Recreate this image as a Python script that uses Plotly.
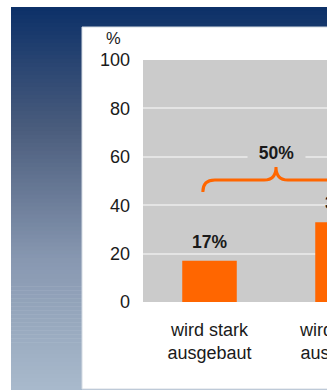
import plotly.graph_objects as go

# --- data -------------------------------------------------------------
categories = ["wird stark<br>ausgebaut", "wird etwas<br>ausgebaut"]
values = [17, 33]                      # percent
y_ticks = [0, 20, 40, 60, 80, 100]
unit_label = "%"

# --- geometry (pixels) ------------------------------------------------
L, T, W, H = 143, 60, 266, 242
R = 20
FIG_W, FIG_H = L + W + R, 390

ORANGE = "#ff6600"
PLOT_GRAY = "#cbcbcb"
GRID = "#e4e4e4"
TEXT = "#1a1a1a"
FONT = "Liberation Sans, Arial, sans-serif"


def px_x(p):
    return (p - L) / W


def px_y(p):
    return (T + H - p) / H


def hex_rgb(h):
    h = h.lstrip("#")
    return tuple(int(h[i:i + 2], 16) for i in (0, 2, 4))


# vertical gradient of the navy frame: (pixel row, colour)
stops = [(7, "#0c3068"), (130, "#4b5d7d"), (260, "#8898b1"), (390, "#a9bacc")]


def grad_color(yp):
    for (y0, c0), (y1, c1) in zip(stops[:-1], stops[1:]):
        if y0 <= yp <= y1:
            t = (yp - y0) / (y1 - y0)
            a, b = hex_rgb(c0), hex_rgb(c1)
            return "rgb(%d,%d,%d)" % tuple(round(a[k] + (b[k] - a[k]) * t) for k in range(3))
    return stops[-1][1]


shapes = []
top, bottom, n = 7, 390, 96
step = (bottom - top) / n
for i in range(n):
    y0 = top + i * step
    y1 = y0 + step
    shapes.append(dict(type="rect", xref="paper", yref="paper", layer="below",
                       x0=px_x(11), x1=px_x(FIG_W + 5),
                       y0=px_y(y1 + 0.6), y1=px_y(y0),
                       fillcolor=grad_color((y0 + y1) / 2), line_width=0))

# white chart panel
shapes.append(dict(type="rect", xref="paper", yref="paper", layer="below",
                   x0=px_x(82), x1=px_x(FIG_W + 5), y0=px_y(389), y1=px_y(27),
                   fillcolor="white", line=dict(color="#d4dbe3", width=1)))
# grey plotting area
shapes.append(dict(type="rect", xref="paper", yref="paper", layer="below",
                   x0=0, x1=1, y0=0, y1=1, fillcolor=PLOT_GRAY, line_width=0))

# curly brace spanning both bars, tip pointing up at the total
xa, xb = -0.05, len(values) - 1 + 0.05
xm = (len(values) - 1) / 2
y_end, y_mid, y_tip = 45.5, 50.4, 55.8
rx = 0.09
brace = (f"M {xa},{y_end} Q {xa},{y_mid} {xa + rx},{y_mid} "
         f"L {xm - rx},{y_mid} Q {xm},{y_mid} {xm},{y_tip} "
         f"Q {xm},{y_mid} {xm + rx},{y_mid} "
         f"L {xb - rx},{y_mid} Q {xb},{y_mid} {xb},{y_end}")
shapes.append(dict(type="path", xref="x", yref="y", path=brace, layer="above",
                   line=dict(color=ORANGE, width=3)))

fig = go.Figure(go.Bar(
    x=list(range(len(values))), y=values,
    marker=dict(color=ORANGE, line_width=0),
    hoverinfo="skip",
))

annotations = [
    dict(text=unit_label, xref="paper", yref="paper", x=px_x(113), y=px_y(38),
         xanchor="center", yanchor="middle",
         showarrow=False, font=dict(size=16.5, color=TEXT, family=FONT)),
]
for i, v in enumerate(values):
    annotations.append(dict(text=f"<b>{v}%</b>", x=i, y=v, xref="x", yref="y",
                            yanchor="bottom", yshift=7, showarrow=False,
                            font=dict(size=17.5, color=TEXT, family=FONT)))
annotations.append(dict(text=f"<b>{sum(values)}%</b>", x=xm, y=61.6, xref="x", yref="y",
                        showarrow=False, bgcolor=PLOT_GRAY, width=57, borderpad=0,
                        font=dict(size=17.5, color=TEXT, family=FONT)))

fig.update_layout(
    width=FIG_W, height=FIG_H,
    margin=dict(l=L, r=R, t=T, b=FIG_H - T - H, pad=0),
    paper_bgcolor="white", plot_bgcolor="rgba(0,0,0,0)",
    font=dict(family=FONT, size=18, color=TEXT),
    showlegend=False, bargap=0.59,
    shapes=shapes, annotations=annotations,
    xaxis=dict(range=[-0.5, len(values) - 0.5], tickvals=list(range(len(values))),
               ticktext=categories, showgrid=False, zeroline=False, showline=False,
               ticks="", ticklabelstandoff=15, fixedrange=True,
               tickfont=dict(size=18, color=TEXT, family=FONT)),
    yaxis=dict(range=[0, 100], tickvals=y_ticks, showgrid=True, gridcolor=GRID,
               gridwidth=2, zeroline=False, showline=False, ticks="",
               ticklabelstandoff=12, fixedrange=True,
               tickfont=dict(size=18, color=TEXT, family=FONT)),
)

fig.write_html(
    "out.html",
    config={"displayModeBar": False},
    post_script="document.documentElement.style.overflow='hidden';"
                "document.body.style.overflow='hidden';document.body.style.margin='0';",
)
